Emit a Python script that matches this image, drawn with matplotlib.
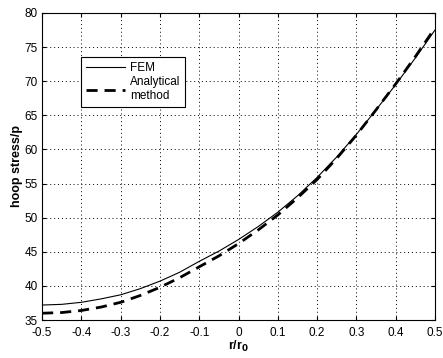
import matplotlib
matplotlib.use("Agg")
import matplotlib.pyplot as plt

r = [-0.5, -0.45, -0.4, -0.35, -0.3, -0.25, -0.2, -0.15, -0.1, -0.05, 0.0,
     0.05, 0.1, 0.15, 0.2, 0.25, 0.3, 0.35, 0.4, 0.45, 0.5]
fem = [37.2, 37.3, 37.6, 38.1, 38.7, 39.6, 40.7, 42.0, 43.6, 45.1, 46.8,
       48.7, 50.8, 53.2, 55.9, 58.9, 62.2, 65.8, 69.5, 73.4, 77.5]
analytical = [36.0, 36.1, 36.4, 36.9, 37.6, 38.6, 39.8, 41.2, 42.8, 44.4, 46.2,
              48.2, 50.4, 52.9, 55.6, 58.7, 62.1, 65.8, 69.6, 73.6, 77.8]
xticks = [-0.5, -0.4, -0.3, -0.2, -0.1, 0, 0.1, 0.2, 0.3, 0.4, 0.5]
xticklabels = ["-0.5", "-0.4", "-0.3", "-0.2", "-0.1", "0",
               "0.1", "0.2", "0.3", "0.4", "0.5"]

plt.rcParams["font.family"] = ["Liberation Sans", "DejaVu Sans"]

fig = plt.figure(figsize=(4.43, 3.58), dpi=100)
ax = fig.add_axes([0.095, 0.106, 0.887, 0.858])

ax.plot(r, fem, color="black", linewidth=0.8, label="FEM")
ax.plot(r, analytical, color="black", linewidth=2.0, linestyle=(0, (4, 2.5)),
        label="Analytical\nmethod")

ax.set_xlim(-0.5, 0.5)
ax.set_ylim(35, 80)
ax.set_xticks(xticks)
ax.set_xticklabels(xticklabels)
ax.set_yticks(range(35, 81, 5))
ax.tick_params(direction="in", top=True, right=True, labelsize=8.5, length=3)
ax.tick_params(axis="x", pad=5)
ax.tick_params(axis="y", pad=3)
ax.grid(True, color="black", linestyle=(0, (1, 3)), linewidth=0.7)

ax.set_xlabel("r/r$_\\mathbf{0}$", fontweight="bold", fontsize=9, labelpad=0)
ax.set_ylabel("hoop stress/p", fontweight="bold", fontsize=9, labelpad=1)

leg = ax.legend(loc="upper left", bbox_to_anchor=(0.085, 0.875), fontsize=8.5,
                fancybox=False, edgecolor="black", framealpha=1,
                handlelength=3.3, borderpad=0.4, labelspacing=0.2,
                handletextpad=0.4)
leg.get_frame().set_linewidth(0.8)

fig.savefig("out.png", dpi=100)
